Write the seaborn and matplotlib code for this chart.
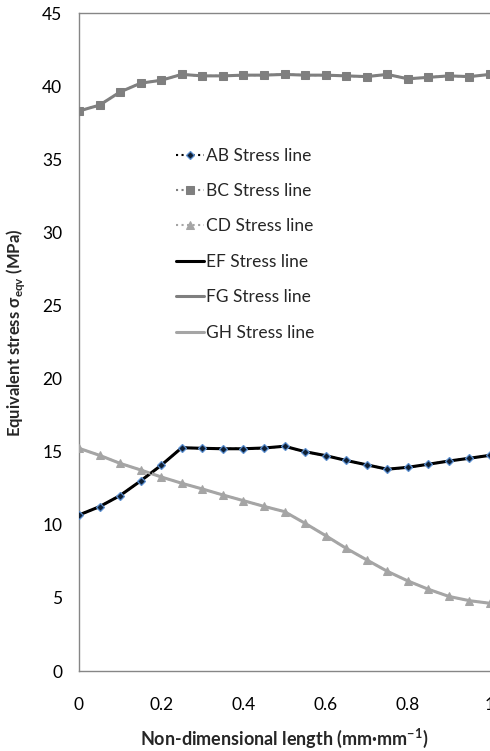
import numpy as np
import pandas as pd
import matplotlib
matplotlib.use("Agg")
import matplotlib.pyplot as plt
import seaborn as sns

sns.set_style("white")
plt.rcParams['font.family'] = ['Lato', 'DejaVu Sans']
plt.rcParams['mathtext.fontset'] = 'custom'
plt.rcParams['mathtext.rm'] = 'Lato'
plt.rcParams['mathtext.bf'] = 'Lato:bold'

# non-dimensional position along each line
x_pos = [0, 0.05, 0.1, 0.15, 0.2, 0.25, 0.3, 0.35, 0.4, 0.45, 0.5,
         0.55, 0.6, 0.65, 0.7, 0.75, 0.8, 0.85, 0.9, 0.95, 1.0]

ab_stress = [10.67, 11.24, 12.0, 13.0, 14.07, 15.27, 15.23, 15.2, 15.2, 15.25, 15.37,
             15.0, 14.73, 14.4, 14.1, 13.8, 13.93, 14.14, 14.36, 14.55, 14.75]
bc_stress = [38.3, 38.7, 39.6, 40.2, 40.4, 40.8, 40.7, 40.7, 40.75, 40.75, 40.8,
             40.75, 40.75, 40.7, 40.65, 40.8, 40.5, 40.6, 40.7, 40.65, 40.8]
cd_stress = [15.23, 14.75, 14.2, 13.75, 13.27, 12.84, 12.45, 12.04, 11.65, 11.26, 10.9,
             10.1, 9.26, 8.39, 7.6, 6.82, 6.16, 5.59, 5.1, 4.81, 4.63]
# solid lines lie on top of the marked ones
ef_stress = list(ab_stress)
fg_stress = list(bc_stress)
gh_stress = list(cd_stress)

x_ticks = [0, 0.2, 0.4, 0.6, 0.8, 1.0]
x_tick_labels = ['0', '0.2', '0.4', '0.6', '0.8', '1']
y_ticks = [0, 5, 10, 15, 20, 25, 30, 35, 40, 45]

fig = plt.figure(figsize=(4.9, 7.51), dpi=100)
ax = fig.add_axes([79 / 490, 80 / 751, 1 - 79 / 490, (671 - 13) / 751])

sns.lineplot(x=x_pos, y=ab_stress, ax=ax, label='AB Stress line', color='black', linestyle=':',
             linewidth=1.5, marker='D', markersize=4.5, markerfacecolor='#0f1f33',
             markeredgecolor='#5b8fd0', markeredgewidth=0.9, zorder=4)
sns.lineplot(x=x_pos, y=bc_stress, ax=ax, label='BC Stress line', color='#7f7f7f', linestyle=':',
             linewidth=1.5, marker='s', markersize=6, markerfacecolor='#7f7f7f',
             markeredgecolor='#7f7f7f', zorder=4)
sns.lineplot(x=x_pos, y=cd_stress, ax=ax, label='CD Stress line', color='#a5a5a5', linestyle=':',
             linewidth=1.5, marker='^', markersize=6, markerfacecolor='#a5a5a5',
             markeredgecolor='#a5a5a5', zorder=4)
sns.lineplot(x=x_pos, y=ef_stress, ax=ax, label='EF Stress line', color='black',
             linewidth=2.2, zorder=3)
sns.lineplot(x=x_pos, y=fg_stress, ax=ax, label='FG Stress line', color='#7f7f7f',
             linewidth=2.2, zorder=3)
sns.lineplot(x=x_pos, y=gh_stress, ax=ax, label='GH Stress line', color='#a5a5a5',
             linewidth=2.2, zorder=3)

ax.set_xlim(0, 1)
ax.set_ylim(0, 45)
ax.set_xticks(x_ticks)
ax.set_xticklabels(x_tick_labels)
ax.set_yticks(y_ticks)
ax.tick_params(axis='both', length=0, labelsize=12.5, colors='black')
ax.tick_params(axis='y', pad=12)
ax.tick_params(axis='x', pad=19)

for side in ['left', 'bottom', 'top']:
    ax.spines[side].set_color('#868686')
    ax.spines[side].set_linewidth(1.0)
ax.spines['right'].set_visible(False)

ax.set_xlabel(r'Non-dimensional length (mm·mm$^{\mathbf{-1}}$)', fontsize=13,
              fontweight='bold')
ax.set_ylabel(r'Equivalent stress σ$_{\mathbf{eqv}}$ (MPa)', fontsize=12,
              fontweight='bold')
ax.xaxis.set_label_coords(0.5, -56 / 658)
ax.yaxis.set_label_coords(-52 / 411, 0.514)

ax.legend(loc='upper left', bbox_to_anchor=(0.219, 0.806), frameon=False, fontsize=12.5,
          handlelength=1.6, handletextpad=0.15, labelspacing=1.12, borderaxespad=0)

fig.savefig('out.png', dpi=100)
